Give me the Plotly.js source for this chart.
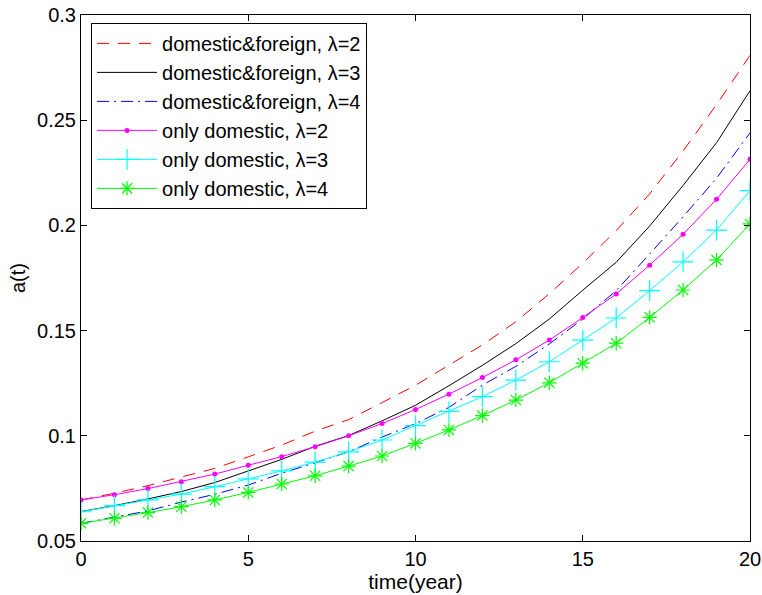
<!DOCTYPE html>
<html>
<head>
<meta charset="utf-8">
<script src="https://cdn.plot.ly/plotly-3.0.1.min.js"></script>
<style>html,body{margin:0;padding:0;background:#fff;}#chart{width:762px;height:595px;}</style>
</head>
<body>
<div id="chart"></div>
<script>
var years = [0,1,2,3,4,5,6,7,8,9,10,11,12,13,14,15,16,17,18,19,20];
var dfLambda2 = [0.0695,0.0727,0.0763,0.0805,0.0845,0.0900,0.0956,0.1022,0.1077,0.1158,0.1240,0.1336,0.1432,0.1542,0.1675,0.1820,0.1975,0.2150,0.2354,0.2574,0.2808];
var dfLambda3 = [0.0640,0.0668,0.0700,0.0735,0.0778,0.0834,0.0888,0.0950,0.1001,0.1071,0.1145,0.1238,0.1335,0.1438,0.1555,0.1692,0.1825,0.1997,0.2190,0.2393,0.2640];
var dfLambda4 = [0.0584,0.0613,0.0643,0.0685,0.0722,0.0766,0.0822,0.0872,0.0924,0.0994,0.1058,0.1135,0.1241,0.1330,0.1436,0.1555,0.1690,0.1864,0.2041,0.2224,0.2440];
var odLambda2 = [0.0695,0.0720,0.0749,0.0782,0.0818,0.0860,0.0901,0.0948,0.1000,0.1058,0.1125,0.1198,0.1277,0.1361,0.1455,0.1562,0.1674,0.1811,0.1958,0.2124,0.2314];
var odLambda3 = [0.0639,0.0668,0.0695,0.0723,0.0758,0.0795,0.0833,0.0875,0.0924,0.0980,0.1048,0.1116,0.1186,0.1265,0.1352,0.1455,0.1560,0.1690,0.1827,0.1978,0.2165];
var odLambda4 = [0.0584,0.0608,0.0635,0.0663,0.0695,0.0731,0.0771,0.0810,0.0856,0.0904,0.0964,0.1028,0.1096,0.1170,0.1252,0.1345,0.1440,0.1563,0.1693,0.1836,0.2007];
var seriesNames = ['domestic&foreign, λ=2','domestic&foreign, λ=3','domestic&foreign, λ=4','only domestic, λ=2','only domestic, λ=3','only domestic, λ=4'];
var xTicks = [0,5,10,15,20];
var yTicks = [0.05,0.1,0.15,0.2,0.25,0.3];
var yTickText = ['0.05','0.1','0.15','0.2','0.25','0.3'];

var traces = [
  {x: years, y: dfLambda2, name: seriesNames[0], mode: 'lines', line: {color: '#ff0000', width: 1, dash: '12px,9px'}},
  {x: years, y: dfLambda3, name: seriesNames[1], mode: 'lines', line: {color: '#000000', width: 1}},
  {x: years, y: dfLambda4, name: seriesNames[2], mode: 'lines', line: {color: '#0000ff', width: 1, dash: '12px,5px,2px,5px'}},
  {x: years, y: odLambda2, name: seriesNames[3], mode: 'lines+markers', line: {color: '#ff00ff', width: 1}, marker: {symbol: 'circle', size: 5, color: '#ff00ff'}},
  {x: years, y: odLambda3, name: seriesNames[4], mode: 'lines+markers', line: {color: '#00ffff', width: 1}, marker: {symbol: 'cross-thin-open', size: 15, color: '#00ffff', line: {width: 1.2, color: '#00ffff'}}},
  {x: years, y: odLambda4, name: seriesNames[5], mode: 'lines+markers', line: {color: '#00ff00', width: 1}, marker: {symbol: 'asterisk-open', size: 12, color: '#00ff00', line: {width: 1.2, color: '#00ff00'}}}
];

var fam = 'Liberation Sans, Arial, Helvetica, sans-serif';
var layout = {
  width: 762, height: 595,
  margin: {l: 81, r: 12, t: 15, b: 54},
  paper_bgcolor: '#fff', plot_bgcolor: '#fff',
  font: {family: fam, size: 20, color: '#000'},
  showlegend: true,
  legend: {x: 0.015, y: 0.985, xanchor: 'left', yanchor: 'top', bgcolor: '#fff', bordercolor: '#000', borderwidth: 1, font: {family: fam, size: 20, color: '#000'}, tracegroupgap: 0, itemwidth: 60},
  xaxis: {
    range: [0, 20], tickvals: xTicks, ticktext: xTicks.map(String),
    ticks: 'inside', ticklen: 6, tickcolor: '#000', mirror: 'ticks', showline: true, linecolor: '#000', linewidth: 1,
    showgrid: false, zeroline: false, tickfont: {size: 20},
    title: {text: 'time(year)', font: {size: 21}, standoff: 1}
  },
  yaxis: {
    range: [0.05, 0.3], tickvals: yTicks, ticktext: yTickText,
    ticks: 'inside', ticklen: 6, tickcolor: '#000', mirror: 'ticks', showline: true, linecolor: '#000', linewidth: 1,
    showgrid: false, zeroline: false, tickfont: {size: 20},
    title: {text: 'a(t)', font: {size: 20}, standoff: 6}
  }
};
Plotly.newPlot('chart', traces, layout, {displayModeBar: false, staticPlot: true});
</script>
</body>
</html>
